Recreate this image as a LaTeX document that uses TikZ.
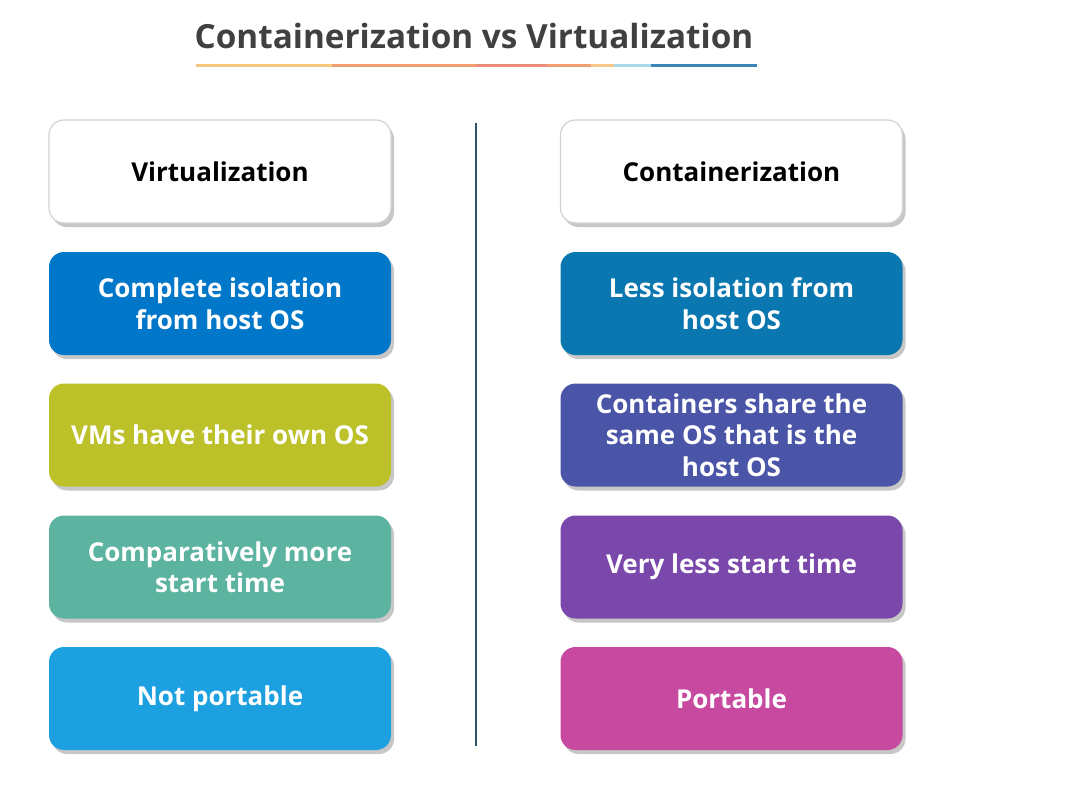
\documentclass[tikz,border=0pt]{standalone}
\usepackage{fontspec}
\setmainfont{Open Sans}
\usepackage{tikz}
\usetikzlibrary{shadows}
\definecolor{titlegray}{HTML}{404040}
\definecolor{isoblue}{HTML}{0077C8}
\definecolor{isoteal}{HTML}{0A77B0}
\definecolor{vmolive}{HTML}{BCC12A}
\definecolor{osindigo}{HTML}{4B55A8}
\definecolor{timegreen}{HTML}{5BB3A0}
\definecolor{timepurple}{HTML}{7A48AA}
\definecolor{portsky}{HTML}{1DA0E0}
\definecolor{portpink}{HTML}{C84AA0}
\definecolor{divline}{HTML}{2E5566}
\definecolor{ulyellow}{HTML}{F5C77E}
\definecolor{ulorange}{HTML}{F0A070}
\definecolor{ulsalmon}{HTML}{EC8C7C}
\definecolor{ullight}{HTML}{F7C98A}
\definecolor{ulsky}{HTML}{A8D8EA}
\definecolor{ulblue}{HTML}{3A85B8}

\begin{document}
\begin{tikzpicture}[x=1pt,y=-1pt,
  cardbox/.style={rounded corners=15pt,minimum width=342pt,minimum height=103pt,
    align=center,font=\bfseries\fontsize{26}{31.5}\selectfont,
    drop shadow={shadow xshift=3pt,shadow yshift=-4pt,opacity=0.22,fill=black}},
  colbox/.style={cardbox,fill=#1,text=white},
  headbox/.style={cardbox,fill=white,draw=gray!35,line width=1.2pt,text=black}]
\useasboundingbox (0,0) rectangle (1072,795);
\node[font=\bfseries\fontsize{33.3}{38}\selectfont,text=titlegray] (title) at (474,36) {Containerization vs Virtualization};
% underline under the title
\draw[line width=3pt,ulyellow] (196,65) -- (332,65);
\draw[line width=3pt,ulorange] (332,65) -- (476,65);
\draw[line width=3pt,ulsalmon] (476,65) -- (547,65);
\draw[line width=3pt,ulorange] (547,65) -- (591,65);
\draw[line width=3pt,ullight] (591,65) -- (614,65);
\draw[line width=3pt,ulsky] (614,65) -- (651,65);
\draw[line width=3pt,ulblue] (651,65) -- (757,65);
% divider
\coordinate (divtop) at (476,123);
\coordinate (divbot) at (476,746);
\draw[divline,line width=1.5pt] (divtop) -- (divbot);
% left column
\node[headbox] (virt) at (220,171.5) {Virtualization};
\node[colbox=isoblue] (virtiso) at (220,303.5) {Complete isolation\\from host OS};
\node[colbox=vmolive] (virtos) at (220,435) {VMs have their own OS};
\node[colbox=timegreen] (virttime) at (220,567) {Comparatively more\\start time};
\node[colbox=portsky] (virtport) at (220,698.5) {Not portable};
% right column
\node[headbox] (cont) at (731.5,171.5) {Containerization};
\node[colbox=isoteal] (contiso) at (731.5,303.5) {Less isolation from\\host OS};
\node[colbox=osindigo] (contos) at (731.5,435) {Containers share the\\same OS that is the\\host OS};
\node[colbox=timepurple] (conttime) at (731.5,567) {Very less start time};
\node[colbox=portpink] (contport) at (731.5,698.5) {Portable};
\end{tikzpicture}
\end{document}
